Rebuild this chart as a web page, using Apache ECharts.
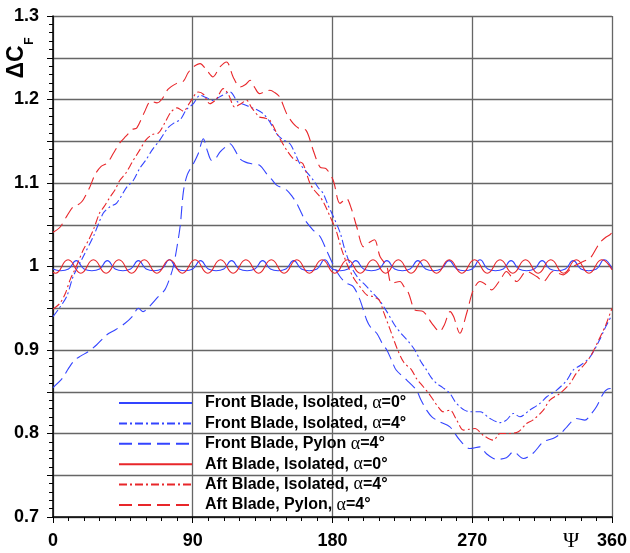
<!DOCTYPE html>
<html>
<head>
<meta charset="utf-8">
<script src="https://cdn.jsdelivr.net/npm/echarts@6/dist/echarts.min.js"></script>
<style>
html,body{margin:0;padding:0;background:#fff;}
#chart{width:630px;height:553px;}
</style>
</head>
<body>
<div id="chart"></div>
<script>
// ---- data (psi in degrees, delta C_F) ----
var seriesNames = [
  'Front Blade, Isolated, α=0°',
  'Front Blade, Isolated, α=4°',
  'Front Blade, Pylon α=4°',
  'Aft Blade, Isolated, α=0°',
  'Aft Blade, Isolated, α=4°',
  'Aft Blade, Pylon, α=4°'
];
var xTickLabels = ['0', '90', '180', '270', '360'];
var yTickLabels = ['0.7', '0.8', '0.9', '1', '1.1', '1.2', '1.3'];

var frontIsoA0 = [
  [0,0.997],[5,0.995],[10,0.997],[15,1.007],[20,0.997],[25,0.995],[30,0.997],[35,1.007],[40,0.997],[45,0.995],
  [50,0.997],[55,1.007],[60,0.997],[65,0.995],[70,0.997],[75,1.008],[80,0.997],[85,0.995],[90,0.997],[95,1.007],
  [100,0.997],[105,0.995],[110,0.997],[115,1.007],[120,0.997],[125,0.995],[130,0.997],[135,1.007],[140,0.997],[145,0.995],
  [150,0.997],[155,1.007],[160,0.997],[165,0.995],[170,0.997],[175,1.008],[180,0.997],[185,0.995],[190,0.997],[195,1.007],
  [200,0.997],[205,0.995],[210,0.997],[215,1.007],[220,0.997],[225,0.995],[230,0.997],[235,1.007],[240,0.997],[245,0.995],
  [250,0.997],[255,1.007],[260,0.997],[265,0.995],[270,0.997],[275,1.008],[280,0.997],[285,0.995],[290,0.997],[295,1.007],
  [300,0.997],[305,0.995],[310,0.997],[315,1.007],[320,0.997],[325,0.995],[330,0.997],[335,1.007],[340,0.997],[345,0.995],
  [350,0.997],[355,1.008],[360,0.997]
];
var frontIsoA4 = [
  [0,0.940],[4,0.950],[8.8,0.964],[13,0.988],[19.5,1.012],[26,1.036],[32.4,1.064],[36.7,1.0715],[41,1.076],[47.5,1.095],
  [51.7,1.103],[56,1.118],[60,1.128],[64,1.14],[69,1.152],[74,1.166],[78,1.172],[82,1.176],[86,1.188],[90.4,1.195],
  [94.7,1.205],[99,1.202],[103,1.199],[108,1.204],[114,1.209],[119,1.197],[123,1.194],[127,1.191],[131,1.188],[135.4,1.183],
  [140,1.172],[144,1.159],[148,1.152],[152.6,1.147],[156,1.135],[159,1.123],[163,1.114],[167.6,1.1035],[171,1.094],[174,1.0876],
  [177,1.074],[180.5,1.06],[185,1.04],[188,1.02],[192,1.0],[197,0.985],[201,0.978],[205,0.97],[210,0.96],[215,0.946],
  [220,0.93],[225,0.918],[229,0.91],[233,0.90],[237,0.886],[240.6,0.876],[244,0.866],[247,0.86],[251,0.855],[255.6,0.848],
  [259,0.838],[262,0.832],[265,0.828],[268.5,0.826],[275,0.826],[281.4,0.818],[288,0.813],[292,0.816],[296.5,0.824],[300.7,0.82],
  [307,0.828],[313.6,0.836],[318,0.844],[324.4,0.852],[331,0.864],[335,0.876],[340,0.882],[346,0.892],[352,0.912],[356,0.928],
  [360,0.942]
];
var frontPylonA4 = [
  [0,0.855],[6,0.866],[10,0.878],[14,0.888],[18,0.893],[22.7,0.898],[28,0.906],[34.5,0.918],[40,0.924],[46.4,0.932],
  [51,0.94],[55,0.95],[58,0.946],[62,0.952],[67.8,0.964],[72,0.972],[75,0.985],[77.5,1.0],[80,1.025],[82,1.05],
  [84,1.09],[86.5,1.11],[90.4,1.123],[93.5,1.135],[96.8,1.153],[99.5,1.138],[102.2,1.127],[105,1.13],[107.5,1.137],[111,1.143],
  [114,1.147],[117,1.14],[120.4,1.129],[124,1.125],[128,1.123],[133.3,1.121],[137.6,1.111],[141,1.104],[144,1.0975],[150.5,1.0915],
  [154,1.084],[157,1.0756],[160,1.064],[162.3,1.0556],[167.5,1.0437],[172,1.036],[176,1.02],[180.5,1.002],[184.8,0.988],[189,0.98],
  [193.4,0.976],[197.7,0.96],[202,0.936],[205,0.926],[208.5,0.92],[212,0.908],[215,0.9],[218,0.888],[221,0.876],[227.8,0.864],
  [234,0.852],[237,0.84],[240.6,0.828],[244,0.82],[249,0.814],[255.6,0.808],[262,0.792],[268.5,0.782],[275,0.784],[279,0.776],
  [285.7,0.769],[292,0.771],[296.5,0.778],[303,0.77],[309,0.776],[315.8,0.79],[322,0.794],[327,0.8],[331,0.808],[337,0.818],
  [342.6,0.816],[346,0.822],[350,0.832],[354.4,0.848],[357,0.853],[360,0.854]
];
var aftIsoA0 = [
  [0,0.993],[1.5,0.992],[9.7,1.008],[17.9,0.992],[26,1.008],[34.2,0.992],[42.4,1.008],[50.6,0.992],[58.8,1.008],[66.9,0.992],
  [75.1,1.008],[83.3,0.992],[91.5,1.008],[99.7,0.992],[107.9,1.008],[116,0.992],[124.2,1.008],[132.4,0.992],[140.6,1.008],[148.8,0.992],
  [157,1.008],[165.1,0.992],[173.3,1.008],[181.5,0.992],[189.7,1.008],[197.9,0.992],[206.1,1.008],[214.2,0.992],[222.4,1.008],[230.6,0.992],
  [238.8,1.008],[247,0.992],[255.2,1.008],[263.3,0.992],[271.5,1.008],[279.7,0.992],[287.9,1.008],[296.1,0.992],[304.3,1.008],[312.4,0.992],
  [320.6,1.008],[328.8,0.992],[337,1.008],[345.2,0.992],[353.4,1.008],[360,0.996]
];
var aftIsoA4 = [
  [0,0.949],[4.5,0.956],[8,0.968],[11,0.984],[15,1.0],[19.5,1.02],[23,1.032],[26,1.044],[30,1.064],[33,1.072],
  [36.7,1.083],[40,1.092],[43,1.103],[47,1.112],[51,1.125],[56,1.14],[60,1.152],[64,1.158],[68,1.16],[72,1.172],
  [76,1.185],[80,1.19],[84,1.186],[88,1.196],[93.6,1.209],[97,1.206],[101,1.195],[105,1.2],[109.7,1.213],[113,1.206],
  [117,1.191],[121,1.195],[124.7,1.199],[128,1.19],[133,1.179],[136,1.178],[139.7,1.175],[144,1.16],[148,1.147],[151,1.138],
  [154.8,1.129],[158,1.126],[161,1.123],[165.5,1.0995],[168,1.092],[172,1.0835],[175,1.074],[178.4,1.06],[182,1.045],[186,1.02],
  [190,1.0],[194,0.985],[198,0.975],[202,0.966],[206,0.964],[210,0.96],[213,0.945],[217,0.925],[222,0.9],[226,0.885],
  [231,0.876],[234,0.866],[238.5,0.856],[242,0.848],[245,0.84],[248,0.832],[251.3,0.826],[255.6,0.828],[260,0.816],[264.3,0.804],
  [268,0.805],[271.8,0.806],[277,0.798],[283.6,0.792],[288,0.8],[294,0.8],[299.7,0.802],[305,0.812],[309,0.816],[315.8,0.828],
  [320,0.84],[326.5,0.848],[333,0.86],[337,0.872],[341,0.88],[346,0.892],[352,0.914],[356,0.93],[360,0.95]
];
var aftPylonA4 = [
  [0,1.041],[4.5,1.047],[8.8,1.06],[13,1.0715],[17,1.075],[19.5,1.08],[23.8,1.0955],[27,1.11],[31,1.12],[35,1.124],
  [39,1.136],[43,1.148],[47,1.156],[51,1.164],[54,1.166],[58.7,1.184],[63,1.198],[67,1.196],[70,1.2],[74,1.212],
  [79.4,1.219],[84,1.222],[87,1.232],[90.4,1.239],[94.7,1.243],[99,1.235],[103,1.227],[107.5,1.239],[111.8,1.245],[116,1.227],
  [120.4,1.215],[124,1.218],[127,1.223],[130,1.214],[133,1.207],[136,1.209],[139.7,1.211],[143,1.208],[146,1.203],[150.5,1.183],
  [154.8,1.171],[158,1.166],[163,1.163],[167.6,1.139],[172,1.119],[176,1.117],[180.5,1.103],[184.8,1.0756],[189,1.0815],[192,1.07],
  [195.6,1.0476],[199.9,1.0237],[203,1.028],[207,1.032],[210.6,1.012],[215,1.0],[218,0.98],[223.5,0.982],[226,0.976],[229,0.968],
  [233,0.948],[238.5,0.946],[244,0.932],[249,0.922],[252,0.93],[255.7,0.946],[258,0.94],[262,0.92],[266.4,0.944],[270.7,0.972],
  [275,0.982],[279,0.978],[282.5,0.972],[288,0.984],[292,0.994],[296,0.986],[298.6,0.982],[305,0.994],[311.5,0.988],[315.8,0.982],
  [322,0.994],[328.6,0.99],[335,1.0],[341.5,1.006],[346,1.01],[352,1.028],[356,1.035],[358.7,1.038],[360,1.041]
];

// ---- styling ----
var BLUE = '#3344ff';
var RED = '#e8262a';
var DASHDOT = [8, 3, 2, 3];
var LONGDASH = [13, 6];

function mk(name, data, color, type, smooth) {
  return {
    name: name, type: 'line', data: data, symbol: 'none', showSymbol: false,
    smooth: smooth, silent: true,
    lineStyle: { color: color, width: 1.1, type: type },
    itemStyle: { color: color }
  };
}

var chart = echarts.init(document.getElementById('chart'), null, { renderer: 'canvas' });
var FONT = 'Liberation Sans, Arial, Helvetica, sans-serif';

chart.setOption({
  animation: false,
  backgroundColor: '#fff',
  grid: { left: 53, right: 18, top: 16, bottom: 36, containLabel: false },
  xAxis: {
    type: 'value', min: 0, max: 360, interval: 90,
    axisLine: { show: true, onZero: false, lineStyle: { color: '#000', width: 1.5 } },
    axisTick: { show: true, inside: false, length: 6, lineStyle: { color: '#000', width: 1 } },
    minorTick: { show: true, splitNumber: 9, length: 4, lineStyle: { color: '#000', width: 1 } },
    splitLine: { show: true, lineStyle: { color: '#666', width: 1.3 } },
    axisLabel: {
      margin: 15, color: '#000', fontSize: 18, fontWeight: 'bold', fontFamily: FONT,
      formatter: function (v) { var i = Math.round(v / 90); return xTickLabels[i] || ''; }
    }
  },
  yAxis: {
    type: 'value', min: 0.7, max: 1.3, interval: 0.05,
    axisLine: { show: true, onZero: false, lineStyle: { color: '#000', width: 1.5 } },
    axisTick: { show: true, inside: false, length: 6, lineStyle: { color: '#000', width: 1 } },
    minorTick: { show: true, splitNumber: 5, length: 4, lineStyle: { color: '#000', width: 1 } },
    splitLine: { show: true, lineStyle: { color: '#666', width: 1.3 } },
    axisLabel: {
      margin: 14, color: '#000', fontSize: 18, fontWeight: 'bold', fontFamily: FONT,
      formatter: function (v) {
        var k = Math.round(v * 100);
        if (k % 10 !== 0) return '';
        return yTickLabels[Math.round((k - 70) / 10)] || '';
      }
    }
  },
  legend: {
    orient: 'vertical', left: 113, top: 389, padding: 5,
    itemWidth: 73, itemHeight: 14, itemGap: 2.4,
    data: seriesNames,
    selectedMode: false,
    itemStyle: { opacity: 0, borderWidth: 0 },
    formatter: function (name) {
      var p = name.split('α');
      return '{b|' + p[0] + '}{a|α}{b|' + p[1] + '}';
    },
    textStyle: {
      padding: [0, 0, 0, 8],
      lineHeight: 16,
      rich: {
        b: { fontSize: 16, lineHeight: 16, fontWeight: 'bold', fontFamily: FONT, color: '#000' },
        a: { fontSize: 18, lineHeight: 16, fontWeight: 'normal', fontFamily: 'Liberation Serif, DejaVu Serif, serif', color: '#000' }
      }
    }
  },
  graphic: [
    { type: 'text', x: 17, y: 62, rotation: Math.PI / 2,
      style: { text: 'ΔC', font: 'bold 23px ' + FONT, fill: '#000', align: 'center', verticalAlign: 'middle' } },
    { type: 'text', x: 29.5, y: 41, rotation: Math.PI / 2,
      style: { text: 'F', font: 'bold 12px ' + FONT, fill: '#000', align: 'center', verticalAlign: 'middle' } },
    { type: 'text', x: 571, y: 541,
      style: { text: 'Ψ', font: '22px Liberation Serif, DejaVu Serif, serif', fill: '#000', align: 'center', verticalAlign: 'middle' } }
  ],
  series: [
    mk(seriesNames[0], frontIsoA0, BLUE, 'solid', 0.5),
    mk(seriesNames[1], frontIsoA4, BLUE, DASHDOT, 0.3),
    mk(seriesNames[2], frontPylonA4, BLUE, LONGDASH, 0.3),
    mk(seriesNames[3], aftIsoA0, RED, 'solid', 0.5),
    mk(seriesNames[4], aftIsoA4, RED, DASHDOT, 0.3),
    mk(seriesNames[5], aftPylonA4, RED, LONGDASH, 0.3)
  ]
});
</script>
</body>
</html>
